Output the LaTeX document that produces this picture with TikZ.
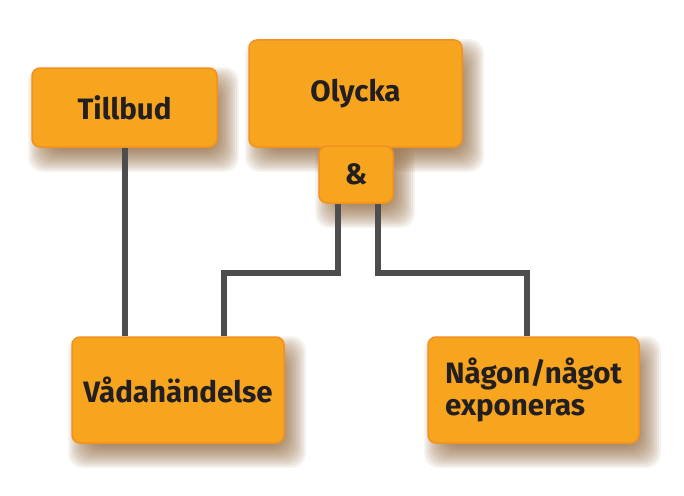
\documentclass[tikz,border=0pt]{standalone}
\usepackage{fontspec}
\setmainfont{Fira Sans}
\usetikzlibrary{positioning}
\definecolor{boxfill}{HTML}{F7A51E}
\definecolor{boxdraw}{HTML}{F39020}
\definecolor{txt}{HTML}{231F20}
\definecolor{linec}{HTML}{4D4D4D}
\definecolor{shadowc}{HTML}{7A4A18}
\pgfdeclarelayer{shadow}
\pgfdeclarelayer{lines}
\pgfsetlayers{shadow,lines,main}
\tikzset{
  box/.style={draw=boxdraw, line width=1.5pt, fill=boxfill, rounded corners=8pt,
    text=txt, font=\fontsize{29.5}{32}\selectfont\bfseries, inner sep=0pt, align=left},
  conn/.style={draw=linec, line width=6pt},
}
\begin{document}
\begin{tikzpicture}[x=1pt,y=-1pt]
\useasboundingbox (0,0) rectangle (684,495);
\node[box, minimum width=185pt, minimum height=79pt] (tillbud) at (124.5,107.5) {Tillbud};
\node[box, minimum width=213pt, minimum height=107pt] (olycka) at (355.5,93.5) {Olycka};
\node[box, minimum width=74pt, minimum height=57pt] (amp) at (356,174.5) {\&};
\node[box, minimum width=212pt, minimum height=106pt] (vada) at (178,390) {Vådahändelse};
\node[box, minimum width=211pt, minimum height=106pt] (nagon) at (533.5,390) {Någon/något\\exponeras};
\coordinate (jl) at (224,273);
\coordinate (jr) at (527,273);
\begin{pgfonlayer}{shadow}
\foreach \n in {tillbud,olycka,amp,vada,nagon}{
  \foreach \e in {-10,-8,...,12}{
    \fill[shadowc, opacity=0.08, rounded corners=14pt]
      ([shift={(9-\e,12-\e)}]\n.north west) rectangle ([shift={(9+\e,12+\e)}]\n.south east);
  }
}
\end{pgfonlayer}
\begin{pgfonlayer}{lines}
\draw[conn] (tillbud.south) -- (tillbud.south |- vada.north);
\draw[conn] ([xshift=-18pt]amp.south) |- (jl) -- (jl |- vada.north);
\draw[conn] ([xshift=22pt]amp.south) |- (jr) -- (jr |- nagon.north);
\end{pgfonlayer}
\end{tikzpicture}
\end{document}
